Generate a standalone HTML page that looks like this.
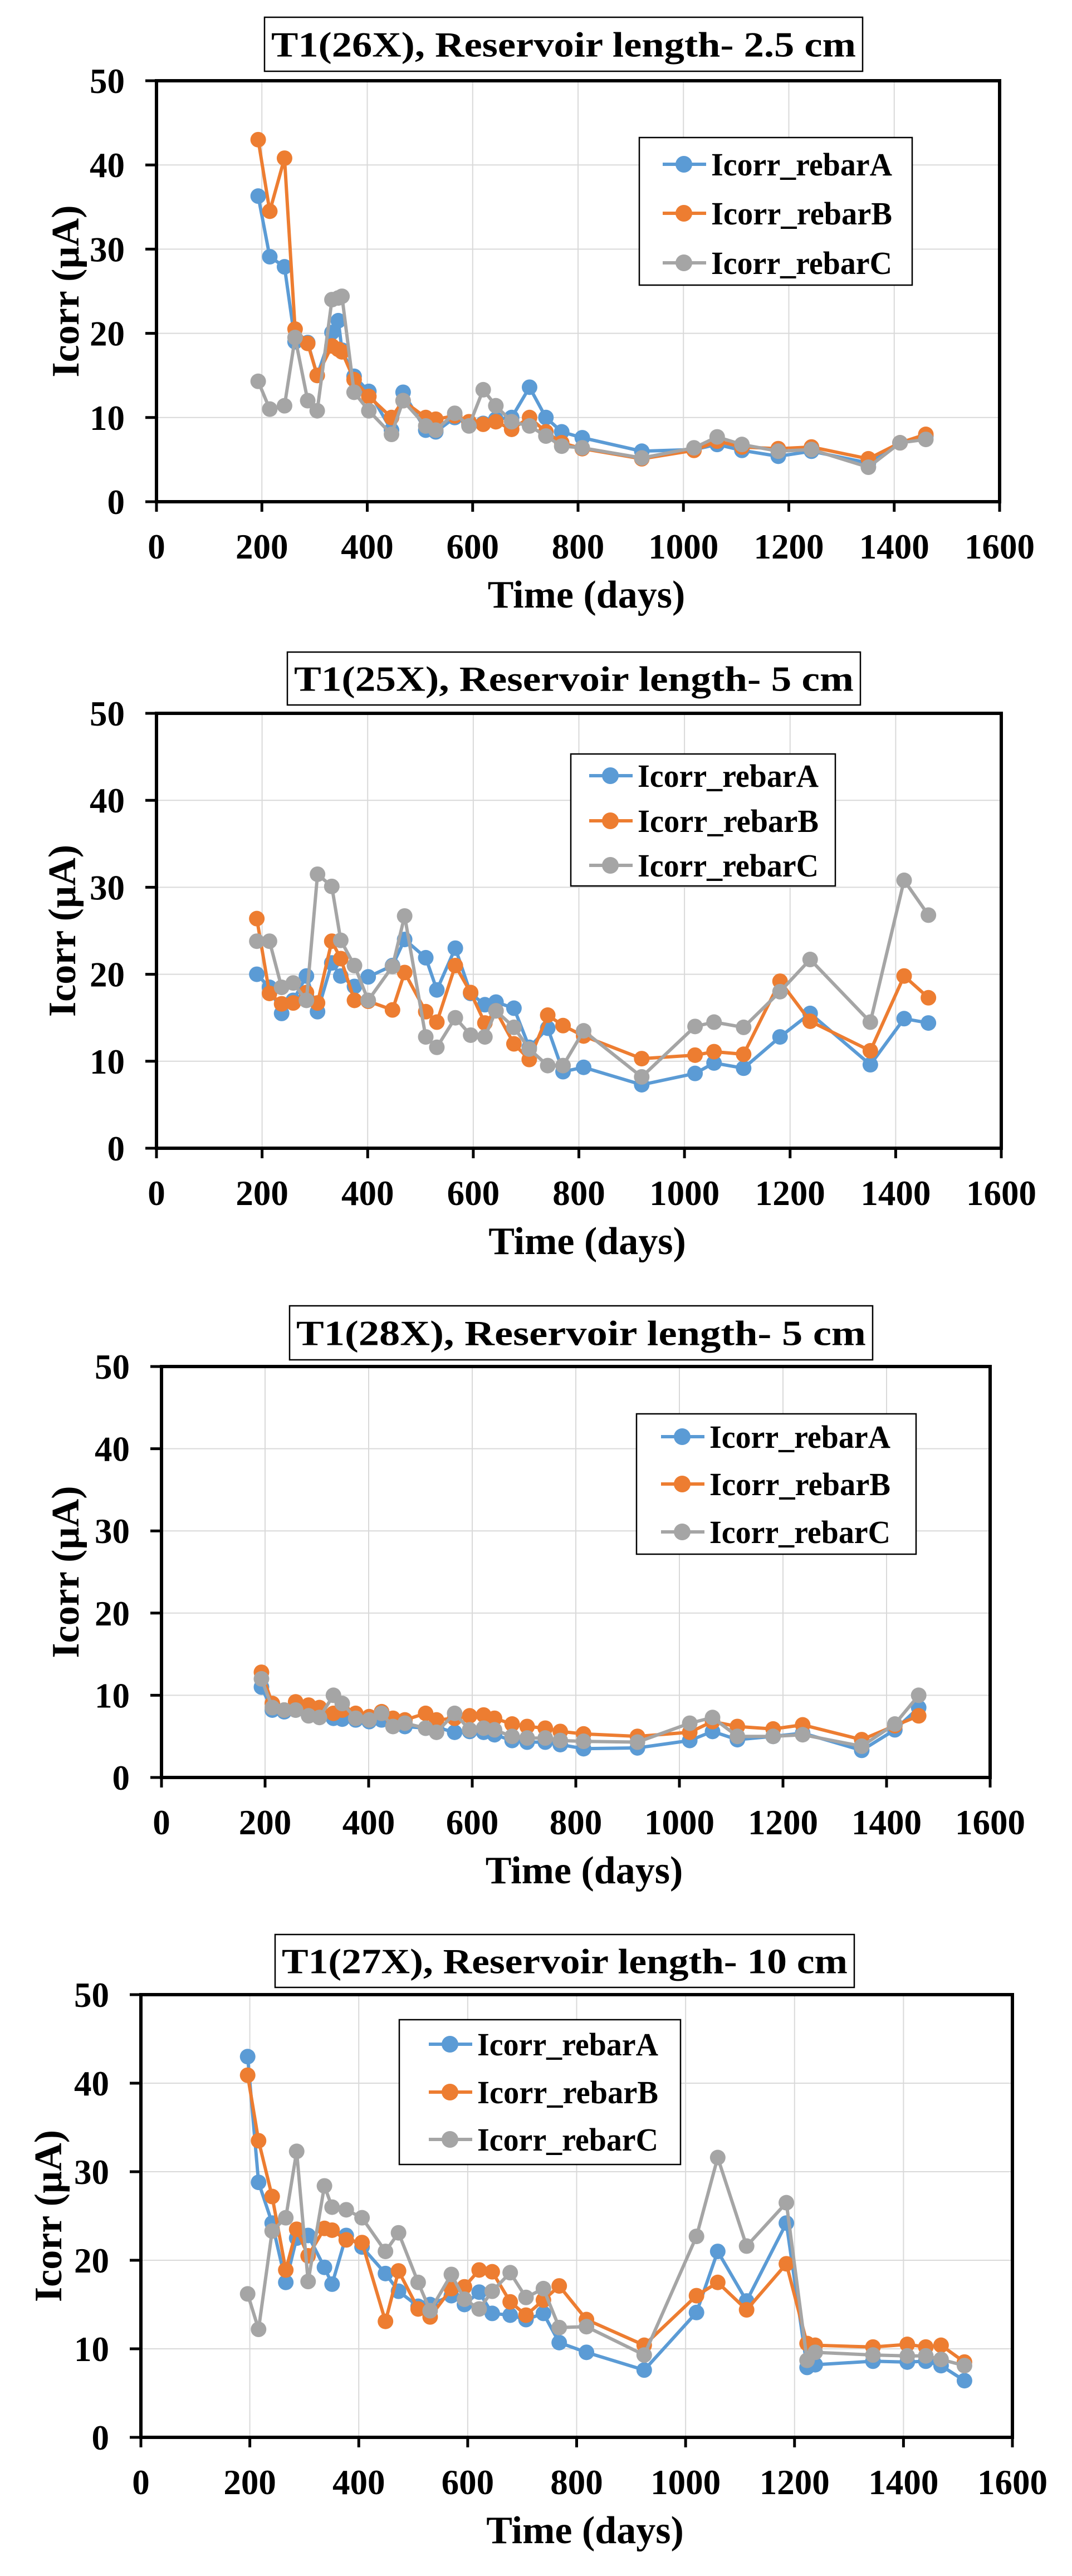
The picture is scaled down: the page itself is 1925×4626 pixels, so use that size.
<!DOCTYPE html>
<html><head><meta charset="utf-8">
<style>
html,body{margin:0;padding:0;background:#fff;}
svg{display:block;font-family:"Liberation Serif",serif;font-weight:bold;}
</style></head>
<body>
<svg id="root" width="1925" height="4626" viewBox="0 0 1925 4626"></svg>
<script>
// ---------- DATA ----------
const yTicks = [0,10,20,30,40,50];
const xTicks = [0,200,400,600,800,1000,1200,1400,1600];
const seriesNames = ["Icorr_rebarA","Icorr_rebarB","Icorr_rebarC"];
const titles = ["T1(26X), Reservoir length- 2.5 cm","T1(25X), Reservoir length- 5 cm","T1(28X), Reservoir length- 5 cm","T1(27X), Reservoir length- 10 cm"];

const c1Days = [193,215,243,263,287,305,333,345,352,375,403,446,468,511,530,566,593,620,644,674,708,739,769,808,921,1020,1064,1111,1180,1243,1351,1411,1460];
const c1A = [36.3,29.1,27.9,19,18.9,15,20.1,21.5,18,14.9,13.1,8.5,13,8.5,8.3,10,9.2,9.3,9.8,10,13.6,10,8.3,7.6,6,6.2,6.8,6.1,5.4,6,4.6,7,7.8];
const c1B = [43,34.5,40.8,20.5,18.8,15,18.5,18.1,17.8,14.5,12.5,10,12,10,9.8,10.2,9.5,9.2,9.5,8.6,10,8.3,7,6.3,5.1,6.1,7.2,6.5,6.3,6.5,5.1,7,8];
const c1C = [14.3,11,11.4,19.5,12,10.8,24,24.2,24.4,13,10.8,8,12,9,8.5,10.5,9,13.3,11.4,9.5,9,7.8,6.6,6.4,5.2,6.4,7.7,6.8,6,6.2,4.1,7,7.4];

const c2Days = [190,214,237,259,284,305,332,349,375,401,447,470,510,531,566,595,622,643,677,706,741,770,809,919,1020,1056,1112,1181,1238,1352,1416,1462];
const c2A = [20,18.5,15.5,17,19.8,15.7,21.3,19.8,18.6,19.7,21,24,21.9,18.2,23,17.8,16.5,16.8,16.1,11.6,13.8,8.8,9.3,7.3,8.6,9.8,9.2,12.8,15.5,9.6,14.9,14.4];
const c2B = [26.4,17.8,16.6,16.7,17.9,16.7,23.8,21.8,17,16.9,15.9,20.2,15.7,14.5,21,17.9,14.4,15.8,12,10.2,15.3,14.1,12.9,10.3,10.7,11.1,10.8,19.2,14.6,11.2,19.8,17.3];
const c2C = [23.8,23.8,18.5,19,17,31.5,30.1,23.9,21,17,20.9,26.7,12.8,11.6,15,13,12.8,15.8,13.9,11.4,9.5,9.5,13.5,8.2,14,14.5,13.9,18,21.7,14.5,30.8,26.8];

const c3Days = [193,214,237,259,284,305,332,349,375,401,425,447,470,510,531,566,595,622,643,677,706,741,770,815,919,1020,1064,1112,1181,1238,1352,1416,1462];
const c3A = [11,8.2,8,8.2,7.6,7.4,7.2,7.1,7,6.8,7,6.3,6.2,6,6.1,5.5,5.6,5.5,5.2,4.5,4.3,4.3,4,3.5,3.6,4.5,5.6,4.6,5,5.4,3.3,5.8,8.5];
const c3B = [12.8,9,8.2,9.2,8.8,8.5,7.8,8.2,7.8,7.4,8,7.2,7,7.8,7,7.2,7.5,7.6,7.2,6.5,6.2,6,5.6,5.3,5,5.5,6.8,6.2,5.9,6.4,4.6,6.3,7.5];
const c3C = [12,8.5,8.2,8.2,7.5,7.3,10,9,7.2,7,7.8,6.2,6.6,6,5.5,7.8,5.8,6,5.8,5,4.8,4.8,4.5,4.4,4.3,6.6,7.3,5,5,5.2,3.8,6.5,10];

const c4Days = [196,216,241,266,286,307,337,351,377,406,449,473,509,531,570,594,621,645,678,707,739,768,818,924,1020,1059,1112,1185,1223,1238,1344,1407,1441,1469,1512];
const c4A = [43,28.8,24.2,17.5,22.5,22.8,19.2,17.3,22.8,21.5,18.5,16.5,14.8,15,16,15,16.4,14,13.8,13.3,14,10.7,9.6,7.6,14.1,21,15.4,24.2,7.9,8.2,8.6,8.5,8.6,8.1,6.4];
const c4B = [40.9,33.5,27.2,18.9,23.5,20.5,23.6,23.4,22.3,22,13.1,18.8,14.5,13.6,16.8,17,18.9,18.7,15.3,13.8,15.5,17.1,13.3,10.4,16,17.5,14.4,19.6,10.6,10.4,10.2,10.5,10.2,10.4,8.5];
const c4C = [16.2,12.2,23.3,24.8,32.3,17.6,28.4,26,25.7,24.8,21,23.1,17.5,14.3,18.4,15.6,14.5,16.5,18.6,15.8,16.8,12.4,12.5,9.3,22.7,31.6,21.6,26.5,8.7,9.6,9.3,9.2,9.2,8.8,8.1];

const allDays = [c1Days,c2Days,c3Days,c4Days];
const allA = [c1A,c2A,c3A,c4A];
const allB = [c1B,c2B,c3B,c4B];
const allC = [c1C,c2C,c3C,c4C];

// ---------- LAYOUT (pixels, not data) ----------
const layouts = [
 {L:281,R:1795,T:145,B:901,tb:[475,31,1549,128],yt:117,lg:[1148,247,1638,512],lm:1228,lr:[295,383,472]},
 {L:281,R:1798,T:1281,B:2062,tb:[516,1171,1545,1266],yt:111,lg:[1025,1354,1500,1591],lm:1096,lr:[1393,1474,1554]},
 {L:290,R:1778,T:2454,B:3192,tb:[520,2345,1567,2442],yt:117,lg:[1143,2539,1645,2791],lm:1225,lr:[2580,2665,2751]},
 {L:253,R:1818,T:3582,B:4377,tb:[494,3474,1534,3569],yt:86,lg:[717,3627,1222,3887],lm:808,lr:[3671,3757,3842]}
];
const colors = ["#5B9BD5","#ED7D31","#A5A5A5"];
const NS = "http://www.w3.org/2000/svg";
const root = document.getElementById('root');
function mk(tag, attrs, parent){
  const e = document.createElementNS(NS, tag);
  for (const k in attrs) e.setAttribute(k, attrs[k]);
  (parent||root).appendChild(e);
  return e;
}

layouts.forEach((ly, ci) => {
  const g = mk('g', {});
  
  
  const xs = d => ly.L + d/1600*(ly.R-ly.L);
  const ys = v => ly.B - v/50*(ly.B-ly.T);

  const tb = ly.tb;
  const tr = mk('rect', {x:tb[0], y:tb[1], width:tb[2]-tb[0], height:tb[3]-tb[1], fill:'#fff', stroke:'#000', 'stroke-width':2.5}, g);
  
  
  const tt = mk('text', {x:(tb[0]+tb[2])/2, y:(tb[1]+tb[3])/2+22, 'text-anchor':'middle', 'font-size':64, textLength:(tb[2]-tb[0])-24, lengthAdjust:'spacingAndGlyphs'}, g);
  tt.textContent = titles[ci];
  
  

  xTicks.forEach(t => {
    if (t===0||t===1600) return;
    const l = mk('line', {x1:xs(t), x2:xs(t), y1:ly.T, y2:ly.B, stroke:'#d9d9d9', 'stroke-width':2}, g);
    
    
  });
  yTicks.forEach(t => {
    if (t===0||t===50) return;
    const l = mk('line', {x1:ly.L, x2:ly.R, y1:ys(t), y2:ys(t), stroke:'#d9d9d9', 'stroke-width':2}, g);
    
    
  });

  const fr = mk('rect', {x:ly.L, y:ly.T, width:ly.R-ly.L, height:ly.B-ly.T, fill:'none', stroke:'#000', 'stroke-width':6}, g);
  
  

  xTicks.forEach(t => {
    const l = mk('line', {x1:xs(t), x2:xs(t), y1:ly.B, y2:ly.B+18, stroke:'#000', 'stroke-width':5}, g);
    
    
    const tx = mk('text', {x:xs(t), y:ly.B+102, 'text-anchor':'middle', 'font-size':63}, g);
    tx.textContent = t;
    
    
  });
  yTicks.forEach(t => {
    const l = mk('line', {x1:ly.L-20, x2:ly.L, y1:ys(t), y2:ys(t), stroke:'#000', 'stroke-width':5}, g);
    
    
    const tx = mk('text', {x:ly.L-57, y:ys(t)+22, 'text-anchor':'end', 'font-size':63}, g);
    tx.textContent = t;
    
    
  });

  const xt = mk('text', {x:(ly.L+ly.R)/2 + 15, y:ly.B+190, 'text-anchor':'middle', 'font-size':70}, g);
  xt.textContent = 'Time (days)';
  
  
  const cy = (ly.T+ly.B)/2;
  const yt = mk('text', {x:ly.yt, y:cy, 'text-anchor':'middle', 'font-size':70, transform:'rotate(-90 '+ly.yt+' '+cy+') translate(0 24)'}, g);
  yt.textContent = 'Icorr (µA)';
  
  

  const days = allDays[ci];
  const sets = [allA[ci], allB[ci], allC[ci]];
  sets.forEach((vals, si) => {
    const sg = mk('g', {}, g);
    
    
    const pts = days.map((d,i) => xs(d).toFixed(1)+','+ys(vals[i]).toFixed(1)).join(' ');
    const pl = mk('polyline', {points:pts, fill:'none', stroke:colors[si], 'stroke-width':6, 'stroke-linejoin':'round'}, sg);
    
    
    days.forEach((d,i) => {
      const c = mk('circle', {cx:xs(d), cy:ys(vals[i]), r:14, fill:colors[si]}, sg);
      
      
    });
  });

  const lg = ly.lg;
  const lb = mk('rect', {x:lg[0], y:lg[1], width:lg[2]-lg[0], height:lg[3]-lg[1], fill:'#fff', stroke:'#000', 'stroke-width':2.5}, g);
  
  
  seriesNames.forEach((n, si) => {
    const ry = ly.lr[si];
    const eg = mk('g', {}, g);
    
    
    mk('line', {x1:ly.lm-38, x2:ly.lm+40, y1:ry, y2:ry, stroke:colors[si], 'stroke-width':6}, eg);
    mk('circle', {cx:ly.lm, cy:ry, r:15, fill:colors[si]}, eg);
    const t = mk('text', {x:ly.lm+49, y:ry+20, 'font-size':58, textLength:325, lengthAdjust:'spacingAndGlyphs'}, eg);
    t.textContent = n;
    
    
  });
});
</script>
</body></html>
